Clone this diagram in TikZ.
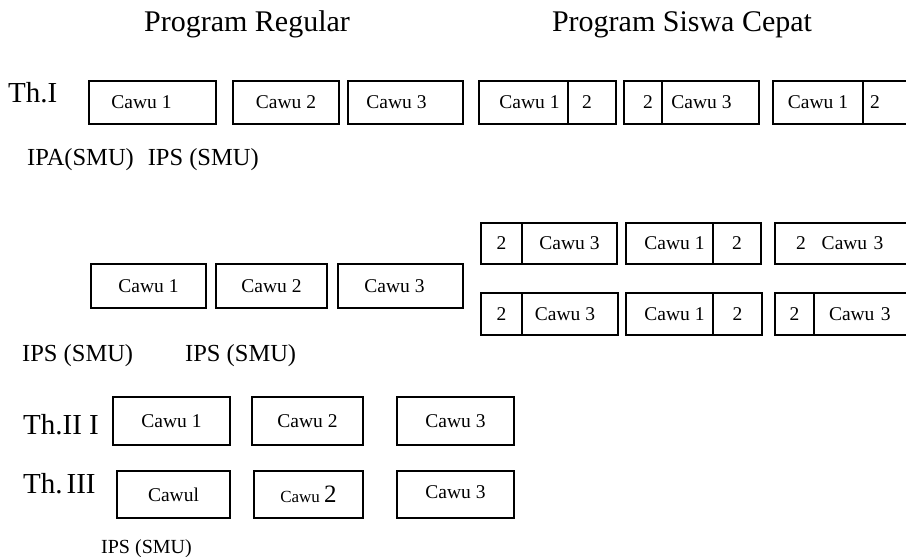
\documentclass[tikz,border=0pt]{standalone}
\usepackage{fontspec}
\setmainfont{Liberation Serif}

\tikzset{
  cawu/.style={draw, line width=1.5pt, inner sep=0pt, outer sep=0pt,
    anchor=north west, font=\fontsize{19.5}{22}\selectfont},
  kiri/.style={align=left, text width=#1},
  judul/.style={font=\fontsize{30}{36}\selectfont, inner sep=0pt, anchor=base},
  tahun/.style={font=\fontsize{29}{34}\selectfont, inner sep=0pt, anchor=base west},
  jurusan/.style={font=\fontsize{24.5}{29}\selectfont, inner sep=0pt, anchor=base west}
}

\begin{document}
\begin{tikzpicture}[x=1pt, y=-1pt]
  \useasboundingbox (0,0) rectangle (906,557);
  \clip (0,0) rectangle (906,557);

  \node[judul] (reg) at (247,31) {Program Regular};
  \node[judul] (sc) at (682,31) {Program Siswa Cepat};

  \node[tahun] (th1) at (8,102) {Th.I};
  \node[cawu, minimum width=127pt, minimum height=43pt] (ra1) at (89,81) {Cawu 1\kern22pt};
  \node[cawu, minimum width=106pt, minimum height=43pt] (ra2) at (233,81) {Cawu 2};
  \node[cawu, minimum width=115pt, minimum height=43pt] (ra3) at (348,81) {Cawu 3\kern18pt};
  \node[cawu, minimum width=89pt, minimum height=43pt] (sa1) at (479,81) {\kern12pt Cawu 1};
  \node[cawu, minimum width=48pt, minimum height=43pt] (sa2) at (sa1.north east) {2\kern10pt};
  \node[cawu, minimum width=38pt, minimum height=43pt] (sb1) at (624,81) {\kern10pt 2};
  \node[cawu, minimum width=97pt, minimum height=43pt] (sb2) at (sb1.north east) {Cawu 3\kern18pt};
  \node[cawu, minimum width=90pt, minimum height=43pt] (sc1) at (773,81) {Cawu 1};
  \node[cawu, kiri=50pt, inner xsep=7pt, minimum height=43pt] (sc2) at (sc1.north east) {2};
  \node[jurusan] (ipa1) at (27,165) {IPA(SMU)\hspace{14pt}IPS (SMU)};

  \node[cawu, minimum width=41pt, minimum height=41pt] (ua1) at (481,223) {2};
  \node[cawu, minimum width=95pt, minimum height=41pt] (ua2) at (ua1.north east) {Cawu 3};
  \node[cawu, minimum width=87pt, minimum height=41pt] (ub1) at (626,223) {\kern10pt Cawu 1};
  \node[cawu, minimum width=48pt, minimum height=41pt] (ub2) at (ub1.north east) {2};
  \node[cawu, kiri=130pt, inner xsep=21pt, minimum height=41pt] (uc) at (775,223) {2\hspace{16pt}Cawu 3};

  \node[cawu, minimum width=115pt, minimum height=44pt] (ma1) at (91,264) {Cawu 1};
  \node[cawu, minimum width=111pt, minimum height=44pt] (ma2) at (216,264) {Cawu 2};
  \node[cawu, minimum width=125pt, minimum height=44pt] (ma3) at (338,264) {Cawu 3\kern12pt};

  \node[cawu, minimum width=41pt, minimum height=42pt] (la1) at (481,293) {2};
  \node[cawu, minimum width=96pt, minimum height=42pt] (la2) at (la1.north east) {Cawu 3\kern10pt};
  \node[cawu, minimum width=87pt, minimum height=42pt] (lb1) at (626,293) {\kern10pt Cawu 1};
  \node[cawu, minimum width=49pt, minimum height=42pt] (lb2) at (lb1.north east) {2};
  \node[cawu, minimum width=39pt, minimum height=42pt] (lc1) at (775,293) {2};
  \node[cawu, kiri=100pt, inner xsep=15pt, minimum height=42pt] (lc2) at (lc1.north east) {Cawu 3};

  \node[jurusan] (ips1) at (22,361) {IPS (SMU)};
  \node[jurusan] (ips2) at (185,361) {IPS (SMU)};

  \node[tahun] (th2) at (23,434) {Th.II I};
  \node[cawu, minimum width=117pt, minimum height=48pt] (ta1) at (113,397) {Cawu 1};
  \node[cawu, minimum width=111pt, minimum height=48pt] (ta2) at (252,397) {Cawu 2};
  \node[cawu, minimum width=117pt, minimum height=48pt] (ta3) at (397,397) {Cawu 3};

  \node[tahun] (th3) at (23,493) {Th.\hspace{4pt}III};
  \node[cawu, minimum width=113pt, minimum height=47pt] (tb1) at (117,471) {Cawul};
  \node[cawu, minimum width=109pt, minimum height=47pt] (tb2) at (254,471)
    {\raisebox{-4pt}{\fontsize{17}{20}\selectfont Cawu \fontsize{25}{28}\selectfont 2}};
  \node[cawu, minimum width=117pt, minimum height=47pt] (tb3) at (397,471) {\raisebox{4pt}{Cawu 3}};
  \node[jurusan, font=\fontsize{20}{24}\selectfont] (ips3) at (101,553) {IPS (SMU)};
\end{tikzpicture}
\end{document}
